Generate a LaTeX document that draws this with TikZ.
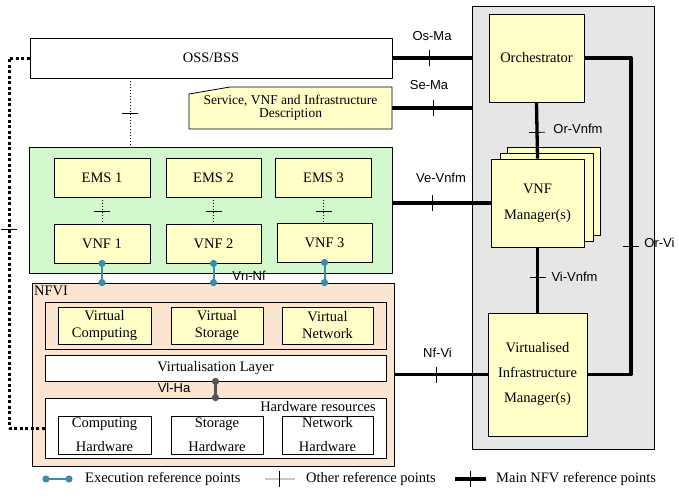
\documentclass[tikz,border=0pt]{standalone}
\usepackage{fontspec}
\setmainfont{Liberation Serif}
\newfontfamily\labelfont{Liberation Sans}
\usetikzlibrary{arrows.meta,decorations.markings}

\definecolor{manogray}{RGB}{230,230,230}
\definecolor{boxyellow}{RGB}{255,255,200}
\definecolor{vnfgreen}{RGB}{212,248,206}
\definecolor{nfvipeach}{RGB}{252,229,208}
\definecolor{execteal}{RGB}{58,140,170}
\definecolor{hagray}{RGB}{85,85,85}
\definecolor{legendgray}{RGB}{200,200,200}

\tikzset{
  box/.style={draw,line width=0.8pt,inner sep=0pt,align=center},
  ybox/.style={box,fill=boxyellow},
  wbox/.style={box,fill=white},
  reflabel/.style={font=\labelfont\fontsize{13}{15}\selectfont,inner sep=0pt},
  legendtext/.style={anchor=west,inner sep=0pt},
  ticked/.style={postaction={decorate,decoration={markings,
      mark=at position #1 with {\draw[solid,black,line width=0.8pt]
        (0,-8pt) -- (0,8pt);}}}},
  mainref/.style={line width=3.3pt},
  otherref/.style={dotted,line width=1pt},
  mgmtref/.style={line width=3pt,dash pattern=on 3pt off 2.5pt},
  execref/.style={draw=execteal,line width=2pt,
    {Circle[length=7pt]}-{Circle[length=7pt]},
    shorten <=-3.5pt,shorten >=-3.5pt},
  haref/.style={draw=hagray,line width=2.4pt,
    {Circle[length=7pt]}-{Circle[length=7pt]},
    shorten <=-3.5pt,shorten >=-3.5pt}
}

\begin{document}
\begin{tikzpicture}[x=1pt,y=-1pt,line join=round,
                    font=\fontsize{14.5}{17}\selectfont]
  \useasboundingbox (0,0) rectangle (679,498);

  % NFV management and orchestration
  \node[box,line width=0.6pt,fill=manogray,minimum width=182pt,
    minimum height=443pt] (mano) at (563,227.5) {};
  \node[ybox,minimum width=95pt,minimum height=88pt] (orch)
    at (536.5,58) {Orchestrator};
  \node[ybox,minimum width=93pt,minimum height=88pt] (vnfmback)
    at (553.5,191) {};
  \node[ybox,minimum width=93pt,minimum height=88pt] (vnfmmid)
    at (546.5,197) {};
  \node[ybox,minimum width=93pt,minimum height=88pt] (vnfm)
    at (537.5,203) {VNF\\[9pt]Manager(s)};
  \node[ybox,minimum width=99pt,minimum height=123pt] (vim)
    at (537.5,374.5) {Virtualised\\[8pt]Infrastructure\\[8pt]Manager(s)};

  % OSS/BSS and descriptions
  \node[wbox,minimum width=362pt,minimum height=40pt] (oss)
    at (211,58) {OSS/BSS};
  \draw[fill=boxyellow,line width=0.8pt]
    (189,94) -- (230,87) -- (392,87) -- (392,129) -- (189,129) -- cycle;
  \node[align=center,inner sep=0pt,minimum width=203pt,minimum height=42pt,
    font=\fontsize{13.5}{13}\selectfont] (desc)
    at (290.5,108) {Service, VNF and Infrastructure\\Description};

  % VNFs with their EMSs
  \node[box,fill=vnfgreen,minimum width=363pt,minimum height=126pt]
    (vnfbox) at (210.5,210) {};
  \node[ybox,minimum width=96pt,minimum height=39pt] (ems1)
    at (102,177.5) {EMS 1};
  \node[ybox,minimum width=95pt,minimum height=39pt] (ems2)
    at (213.5,177.5) {EMS 2};
  \node[ybox,minimum width=96pt,minimum height=39pt] (ems3)
    at (323.5,177.5) {EMS 3};
  \node[ybox,minimum width=96pt,minimum height=39pt] (vnf1)
    at (102,243.5) {VNF 1};
  \node[ybox,minimum width=95pt,minimum height=39pt] (vnf2)
    at (213.5,243.5) {VNF 2};
  \node[ybox,minimum width=95pt,minimum height=39pt] (vnf3)
    at (324.5,242.5) {VNF 3};

  % NFVI
  \node[box,fill=nfvipeach,minimum width=362pt,minimum height=183pt]
    (nfvi) at (213,374.5) {};
  \node[anchor=west,inner sep=0pt] (nfvilabel) at (34,291) {NFVI};
  \node[box,fill=nfvipeach,minimum width=341pt,minimum height=47pt]
    (virtres) at (215.5,325.5) {};
  \node[ybox,minimum width=93pt,minimum height=37pt] (vcomp)
    at (104.5,325.5) {Virtual\\Computing};
  \node[ybox,minimum width=92pt,minimum height=37pt] (vstor)
    at (217,325.5) {Virtual\\Storage};
  \node[ybox,minimum width=91pt,minimum height=37pt] (vnet)
    at (327.5,325.5) {Virtual\\Network};
  \node[wbox,minimum width=341pt,minimum height=26pt] (vlayer)
    at (215.5,368) {Virtualisation Layer};
  \node[wbox,minimum width=341pt,minimum height=60pt] (hwres)
    at (215.5,428) {};
  \node[anchor=east,inner sep=0pt] (hwlabel) at (376,407)
    {Hardware resources};
  \node[wbox,minimum width=93pt,minimum height=38pt] (hwcomp)
    at (104.5,435) {Computing\\[7pt]Hardware};
  \node[wbox,minimum width=92pt,minimum height=38pt] (hwstor)
    at (217,435) {Storage\\[7pt]Hardware};
  \node[wbox,minimum width=91pt,minimum height=38pt] (hwnet)
    at (327.5,435) {Network\\[7pt]Hardware};

  % main NFV reference points
  \coordinate (orvi) at (631,0);
  \draw[mainref,ticked=37pt] (oss.east) -- (oss.east -| mano.west);
  \draw[mainref,ticked=41pt] (desc.east) -- (desc.east -| mano.west);
  \draw[mainref,ticked=40pt] (vnfbox.east |- vnfm.west) -- (vnfm.west);
  \draw[mainref,ticked=30pt] (orch.south) -- (vnfm.north);
  \draw[mainref,ticked=30pt] (vnfm.south) -- (vim.north);
  \draw[mainref,ticked=235pt] (orch.east) -| (orvi |- vim.east)
    -- (vim.east);
  \draw[mainref,ticked=51pt] (vim.west) -- (vim.west -| nfvi.east);

  \node[reflabel] (osma) at (432,36) {Os-Ma};
  \node[reflabel] (sema) at (429,85) {Se-Ma};
  \node[reflabel] (vevnfm) at (441,178) {Ve-Vnfm};
  \node[reflabel] (orvnfm) at (578,128.5) {Or-Vnfm};
  \node[reflabel] (vivnfm) at (574.5,277) {Vi-Vnfm};
  \node[reflabel] (orvilabel) at (659.5,243) {Or-Vi};
  \node[reflabel] (nfvilink) at (437.5,352.5) {Nf-Vi};

  % other reference points
  \coordinate (ossems) at (130,0);
  \coordinate (mgmt) at (9,0);
  \draw[otherref,ticked=35pt] (ossems |- oss.south)
    -- (ossems |- vnfbox.north);
  \draw[otherref,ticked=14pt] (ems1.south) -- (vnf1.north);
  \draw[otherref,ticked=14pt] (ems2.south) -- (vnf2.north);
  \draw[otherref,ticked=14pt] (ems3.south) -- (ems3.south |- vnf3.north);
  \draw[mgmtref,ticked=192pt] (oss.west) -| (mgmt |- hwres.west)
    -- (hwres.west);

  % execution reference points
  \draw[execref] (vnf1.south) -- (vnf1.south |- nfvi.north);
  \draw[execref] (vnf2.south) -- (vnf2.south |- nfvi.north);
  \draw[execref] (vnf3.south) -- (vnf3.south |- nfvi.north);
  \node[reflabel] (vnnf) at (249,276) {Vn-Nf};
  \draw[haref] (vlayer.south) -- (vlayer.south |- hwres.north);
  \node[reflabel] (vlha) at (174,388) {Vl-Ha};

  % legend
  \node[legendtext] (legexec) at (85,479) {Execution reference points};
  \node[legendtext] (legother) at (306,479) {Other reference points};
  \node[legendtext] (legmain) at (496,479) {Main NFV reference points};
  \draw[execref] ([xshift=-39pt]legexec.west)
    -- ([xshift=-16pt]legexec.west);
  \draw[legendgray,line width=1.2pt,ticked=14pt]
    ([xshift=-41pt]legother.west) -- ([xshift=-11pt]legother.west);
  \draw[mainref,ticked=15pt] ([xshift=-41pt]legmain.west)
    -- ([xshift=-10pt]legmain.west);
\end{tikzpicture}
\end{document}
